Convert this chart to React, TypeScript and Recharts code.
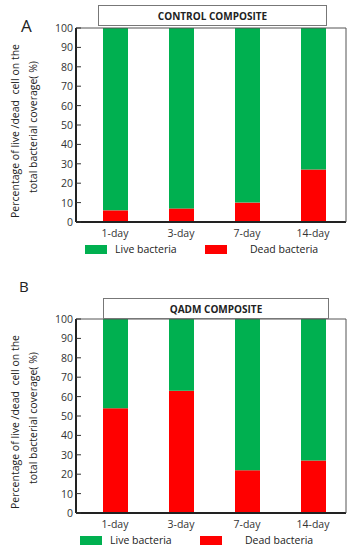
import { BarChart, Bar, XAxis, YAxis, Legend, Label } from 'recharts'

const days = ['1-day', '3-day', '7-day', '14-day']
const controlDead = [6, 7, 10, 27]
const controlLive = [94, 93, 90, 73]
const qadmDead = [54, 63, 22, 27]
const qadmLive = [46, 37, 78, 73]
const yTicks = [0, 10, 20, 30, 40, 50, 60, 70, 80, 90, 100]

const LIVE = '#00B050'
const DEAD = '#FF0000'
const FONT = '"Open Sans", Arial, sans-serif'

type PanelProps = {
  title: string
  letter: string
  dead: number[]
  live: number[]
  top: number
  letterPos: { left: number; top: number; size: number }
  box: { left: number; right: number; top: number; height: number }
  legendShift: number
}

const YTick = (props: any) => {
  const { x, y, payload } = props
  return (
    <g>
      <line x1={x + 3} x2={x + 8} y1={y} y2={y} stroke="#333" strokeWidth={1} />
      <text x={x} y={y} dy={4} textAnchor="end" fontSize={10.5} fill="#333" fontFamily={FONT}>
        {payload.value}
      </text>
    </g>
  )
}

const YLabel = (props: any) => {
  const vb = props.viewBox
  const cy = vb.y + vb.height / 2 + 6
  return (
    <g fontFamily={FONT} fontSize={10.5} fill="#222">
      <text x={15} y={cy} transform={`rotate(-90, 15, ${cy})`} textAnchor="middle" dominantBaseline="central">
        {'Percentage of live /dead \u00a0cell on the'}
      </text>
      <text x={33} y={cy - 4} transform={`rotate(-90, 33, ${cy - 4})`} textAnchor="middle" dominantBaseline="central">
        {'total bacterial coverage( %)'}
      </text>
    </g>
  )
}

const LegendBox = ({ shift }: { shift: number }) => {
  const swatch = (color: string, left: number) => (
    <div style={{ position: 'absolute', left: left + shift, top: 4, width: 22, height: 9, background: color }} />
  )
  const label = (text: string, left: number) => (
    <div style={{ position: 'absolute', left: left + shift, top: 0, fontSize: 10.5, lineHeight: '16px', color: '#222', fontFamily: FONT, whiteSpace: 'nowrap' }}>
      {text}
    </div>
  )
  return (
    <div style={{ position: 'relative', width: 351, height: 16 }}>
      {swatch(LIVE, 85)}
      {label('Live bacteria', 115)}
      {swatch(DEAD, 205)}
      {label('Dead bacteria', 250)}
    </div>
  )
}

const Panel = ({ title, letter, dead, live, top, letterPos, box, legendShift }: PanelProps) => {
  const data = days.map((day, i) => ({ day, dead: dead[i], live: live[i] }))
  return (
    <div style={{ position: 'absolute', left: 0, top, width: 351, height: 260 }}>
      <BarChart width={351} height={260} data={data} margin={{ top: 27, right: 4, bottom: 16, left: 0 }}>
        <XAxis
          dataKey="day"
          height={22}
          tickLine={false}
          padding={{ left: 6, right: 0 }}
          axisLine={{ stroke: '#222', strokeWidth: 2 }}
          tick={{ fontSize: 10.5, fill: '#333', fontFamily: FONT }}
        />
        <XAxis xAxisId="top" orientation="top" height={1} tick={false} tickLine={false} axisLine={{ stroke: '#555' }} />
        <YAxis
          width={76}
          domain={[0, 100]}
          ticks={yTicks}
          interval={0}
          tickSize={0}
          tickMargin={3}
          tick={<YTick />}
          axisLine={{ stroke: '#222', strokeWidth: 2 }}
        >
          <Label content={<YLabel />} />
        </YAxis>
        <YAxis yAxisId="right" orientation="right" width={1} tick={false} tickLine={false} axisLine={{ stroke: '#555' }} />
        <Legend
          layout="horizontal"
          verticalAlign="middle"
          wrapperStyle={{ position: 'absolute', top: 241, left: 0, width: 351 }}
          content={() => <LegendBox shift={legendShift} />}
        />
        <Bar dataKey="dead" stackId="s" fill={DEAD} barSize={25} isAnimationActive={false} />
        <Bar dataKey="live" stackId="s" fill={LIVE} barSize={25} isAnimationActive={false} />
      </BarChart>
      <div
        style={{
          position: 'absolute',
          left: box.left,
          top: box.top,
          width: box.right - box.left,
          height: box.height,
          border: '1px solid #777',
          boxSizing: 'border-box',
          background: '#fff',
          display: 'flex',
          alignItems: 'center',
          justifyContent: 'center',
          fontFamily: FONT,
          fontWeight: 700,
          fontSize: 10,
          color: '#222',
        }}
      >
        {title}
      </div>
      <div
        style={{
          position: 'absolute',
          left: letterPos.left,
          top: letterPos.top,
          fontFamily: FONT,
          fontSize: letterPos.size,
          lineHeight: 1,
          color: '#222',
        }}
      >
        {letter}
      </div>
    </div>
  )
}

export default function App() {
  return (
    <div style={{ position: 'absolute', left: 0, top: 0, width: 351, height: 550, background: '#fff' }}>
      <Panel
        title="CONTROL COMPOSITE"
        letter="A"
        dead={controlDead}
        live={controlLive}
        top={0}
        letterPos={{ left: 21, top: 17, size: 17 }}
        box={{ left: 98, right: 327, top: 5, height: 21 }}
        legendShift={0}
      />
      <Panel
        title="QADM COMPOSITE"
        letter="B"
        dead={qadmDead}
        live={qadmLive}
        top={291}
        letterPos={{ left: 19, top: -12, size: 15 }}
        box={{ left: 103, right: 329, top: 7, height: 21 }}
        legendShift={-5}
      />
    </div>
  )
}
